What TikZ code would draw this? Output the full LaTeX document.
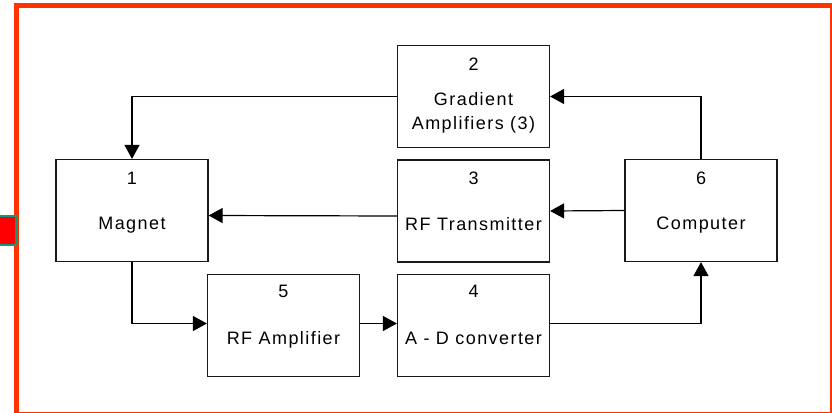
\documentclass[tikz,border=0pt]{standalone}
\usepackage{fontspec}
\setmainfont{Liberation Sans}
\usetikzlibrary{arrows.meta}
\definecolor{framered}{HTML}{FF3300}
\definecolor{tabteal}{HTML}{13967A}
\begin{document}
\begin{tikzpicture}[
  x=1pt, y=-1pt,
  block/.style={draw=black!90, line width=1.2pt, minimum width=152pt,
    minimum height=102pt, inner sep=0pt},
  num/.style={anchor=base, inner sep=0pt, text=black,
    font=\fontsize{18}{24}\selectfont\addfontfeature{LetterSpace=8}},
  blocktext/.style={num},
  link/.style={-{Triangle[length=14pt,width=15pt]}, line width=1.2pt, black},
]
\useasboundingbox (0,0) rectangle (832,412);

% Frame and tab
\draw[line width=5pt, framered] (16.5,5.5) rectangle (832.5,414);
\draw[line width=2pt, draw=tabteal, fill=red] (-2,216) rectangle (16,245);

% Blocks
\node[block] (magnet) at (132,210.5) {};
\node[block] (grad)   at (473.5,96.5) {};
\node[block] (rftx)   at (473.5,211) {};
\node[block] (adc)    at (473.5,325.5) {};
\node[block] (rfamp)  at (283.5,325.5) {};
\node[block] (comp)   at (701,210.5) {};

% Numbers
\node[num] (magnet-n) at ([yshift=-26pt]magnet.north) {1};
\node[num] (grad-n)   at ([yshift=-26pt]grad.north) {2};
\node[num] (rftx-n)   at ([yshift=-25pt]rftx.north) {3};
\node[num] (adc-n)    at ([yshift=-24pt]adc.north) {4};
\node[num] (rfamp-n)  at ([yshift=-24pt]rfamp.north) {5};
\node[num] (comp-n)   at ([yshift=-26pt]comp.north) {6};

% Names
\node[blocktext] (magnet-t) at ([yshift=-71pt]magnet.north) {Magnet};
\node[blocktext] (grad-t1)  at ([yshift=-61pt]grad.north) {Gradient};
\node[blocktext] (grad-t2)  at ([yshift=-85pt]grad.north) {Amplifiers (3)};
\node[blocktext] (rftx-t)   at ([yshift=-71pt]rftx.north) {RF Transmitter};
\node[blocktext] (adc-t)    at ([yshift=-71pt]adc.north) {A - D converter};
\node[blocktext] (rfamp-t)  at ([yshift=-71pt]rfamp.north) {RF Amplifier};
\node[blocktext] (comp-t)   at ([yshift=-71pt]comp.north) {Computer};

% Connections
\draw[link] (grad.west) -| (magnet.north);
\draw[link] (comp.north) |- (grad.east);
\draw[link] (comp.west) -- (rftx.east);
\draw[link] ([yshift=-5pt]rftx.west) -- ([yshift=-5pt]magnet.east);
\draw[link] (magnet.south) |- ([yshift=2pt]rfamp.west);
\draw[link] ([yshift=2pt]rfamp.east) -- ([yshift=2pt]adc.west);
\draw[link] ([yshift=2pt]adc.east) -| (comp.south);

\end{tikzpicture}
\end{document}
